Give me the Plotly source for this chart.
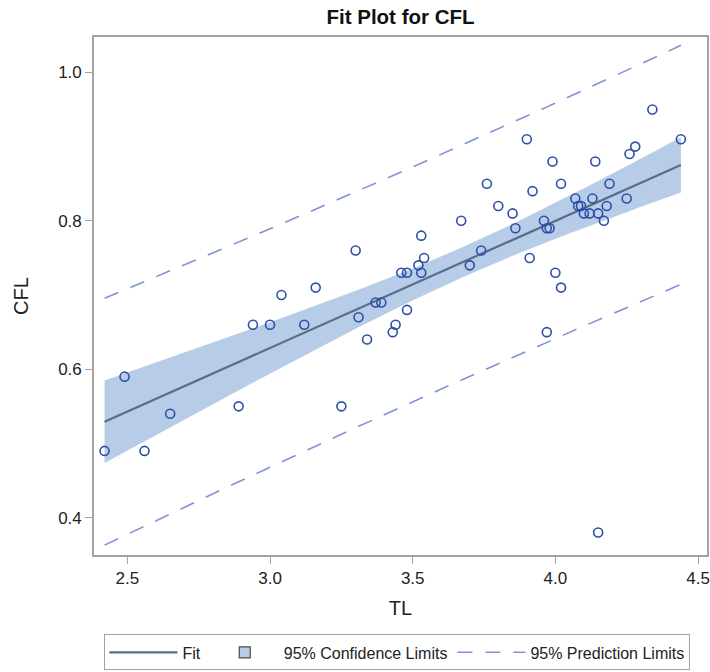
import numpy as np
import plotly.graph_objects as go

# Observations: total length (TL) and CFL
tl = [2.42, 2.49, 2.56, 2.65, 2.89, 2.94, 3.00, 3.04, 3.12, 3.16,
      3.25, 3.30, 3.31, 3.34, 3.37, 3.39, 3.43, 3.44, 3.46, 3.48,
      3.48, 3.52, 3.53, 3.53, 3.54, 3.67, 3.70, 3.74, 3.76, 3.80,
      3.85, 3.86, 3.90, 3.91, 3.92, 3.96, 3.97, 3.98, 3.97, 3.99,
      4.00, 4.02, 4.02, 4.07, 4.08, 4.09, 4.10, 4.12, 4.13, 4.14,
      4.15, 4.15, 4.17, 4.18, 4.19, 4.25, 4.26, 4.28, 4.34, 4.44]
cfl = [0.49, 0.59, 0.49, 0.54, 0.55, 0.66, 0.66, 0.70, 0.66, 0.71,
       0.55, 0.76, 0.67, 0.64, 0.69, 0.69, 0.65, 0.66, 0.73, 0.73,
       0.68, 0.74, 0.73, 0.78, 0.75, 0.80, 0.74, 0.76, 0.85, 0.82,
       0.81, 0.79, 0.91, 0.75, 0.84, 0.80, 0.79, 0.79, 0.65, 0.88,
       0.73, 0.85, 0.71, 0.83, 0.82, 0.82, 0.81, 0.81, 0.83, 0.88,
       0.81, 0.38, 0.80, 0.82, 0.85, 0.83, 0.89, 0.90, 0.95, 0.91]

x_ticks = [2.5, 3.0, 3.5, 4.0, 4.5]
y_ticks = [0.4, 0.6, 0.8, 1.0]

# Student t quantile t(0.975, df = n - 2 = 58)
T_CRIT = 2.0017

# Ordinary least squares fit with 95% confidence and prediction limits
x = np.array(tl)
y = np.array(cfl)
n = len(x)
xbar = x.mean()
sxx = ((x - xbar) ** 2).sum()
slope = ((x - xbar) * (y - y.mean())).sum() / sxx
intercept = y.mean() - slope * xbar
resid = y - (intercept + slope * x)
s = np.sqrt((resid ** 2).sum() / (n - 2))

grid = np.linspace(x.min(), x.max(), 200)
fit = intercept + slope * grid
lev = 1.0 / n + (grid - xbar) ** 2 / sxx
clm = T_CRIT * s * np.sqrt(lev)
cli = T_CRIT * s * np.sqrt(1.0 + lev)

band_fill = "#B7CCE7"
fit_color = "#5A6C8C"
pred_color = "#8392D8"
marker_color = "#2E4FA6"
frame_color = "#A3A3A3"
font_family = "Liberation Sans, Arial, sans-serif"

fig = go.Figure()

# confidence band
fig.add_trace(go.Scatter(x=grid, y=fit + clm, mode="lines",
                         line=dict(width=0, color=band_fill),
                         showlegend=False, hoverinfo="skip"))
fig.add_trace(go.Scatter(x=grid, y=fit - clm, mode="lines",
                         line=dict(width=0, color=band_fill),
                         fill="tonexty", fillcolor=band_fill,
                         showlegend=False, hoverinfo="skip"))

# prediction limits
fig.add_trace(go.Scatter(x=grid, y=fit + cli, mode="lines",
                         line=dict(color=pred_color, width=1.6, dash="15px,13px"),
                         name="95% Prediction Limits", legendgroup="pred",
                         legendrank=3))
fig.add_trace(go.Scatter(x=grid, y=fit - cli, mode="lines",
                         line=dict(color=pred_color, width=1.6, dash="15px,13px"),
                         legendgroup="pred", showlegend=False))

# fitted line
fig.add_trace(go.Scatter(x=grid, y=fit, mode="lines",
                         line=dict(color=fit_color, width=2.2),
                         name="Fit", legendrank=1))

# legend entry for the confidence band
fig.add_trace(go.Scatter(x=[None], y=[None], mode="markers",
                         marker=dict(symbol="square", size=11, color=band_fill,
                                     line=dict(color="#4A4A4A", width=1.2)),
                         name="95% Confidence Limits", legendrank=2))

# observations
fig.add_trace(go.Scatter(x=tl, y=cfl, mode="markers",
                         marker=dict(symbol="circle-open", size=9,
                                     color=marker_color,
                                     line=dict(width=1.6, color=marker_color)),
                         showlegend=False, name="CFL"))

axis_common = dict(
    showline=True, linecolor=frame_color, linewidth=1.6, mirror=True,
    ticks="outside", ticklen=7, tickwidth=1.2, tickcolor=frame_color,
    showgrid=False, zeroline=False, tickformat=".1f",
    tickfont=dict(size=17, color="#222222", family=font_family),
)

fig.update_layout(
    width=710, height=672,
    margin=dict(l=94, r=3, t=37, b=117, autoexpand=False),
    paper_bgcolor="white", plot_bgcolor="white",
    font=dict(family=font_family, color="#222222"),
    title=dict(text="<b>Fit Plot for CFL</b>", x=0.5, xref="paper",
               y=1 - 17 / 672, yref="container", yanchor="middle",
               font=dict(size=20.5, color="#111111", family=font_family)),
    xaxis=dict(range=[2.383, 4.5315], tickvals=x_ticks,
               title=dict(text="TL", font=dict(size=20), standoff=14),
               **axis_common),
    yaxis=dict(range=[0.3497, 1.0477], tickvals=y_ticks,
               title=dict(text="CFL", font=dict(size=20), standoff=24),
               **axis_common),
    legend=dict(orientation="h", x=0.495, xanchor="center", y=-0.188,
                yanchor="middle", bordercolor=frame_color, borderwidth=1,
                font=dict(size=16, family=font_family, color="#222222"),
                itemwidth=68, tracegroupgap=0),
    showlegend=True,
)

fig.write_html("out.html")
